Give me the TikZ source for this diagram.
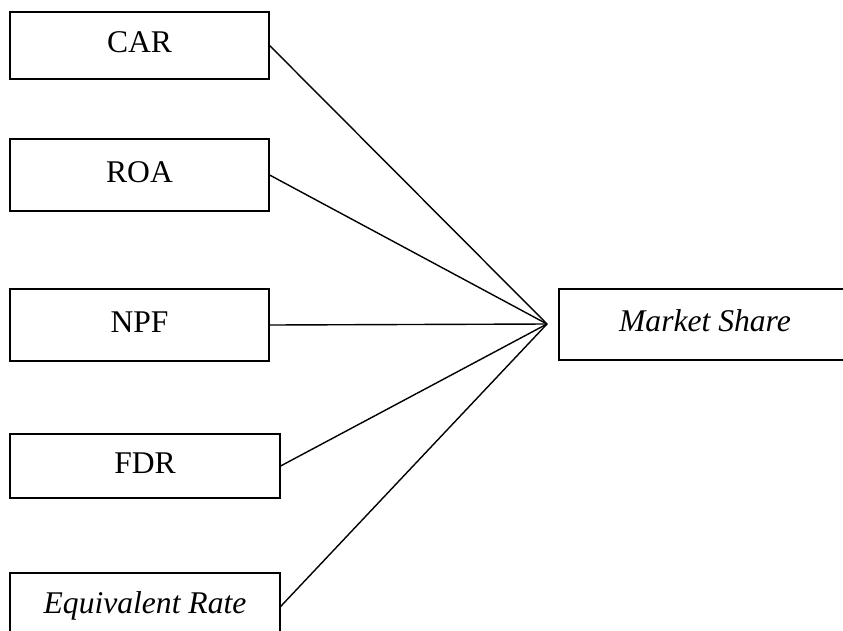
\documentclass[tikz,border=0pt]{standalone}
\usepackage{fontspec}
\setmainfont{Liberation Serif}
\begin{document}
\begin{tikzpicture}[x=1pt,y=-1pt,
  varbox/.style={draw=black, line width=1.2pt, fill=white, inner sep=0pt,
    text height=22pt, text depth=8pt,
    font=\fontsize{31.6}{38}\selectfont},
  link/.style={draw=black, line width=1.4pt}]
\useasboundingbox (0,0) rectangle (843,630);
\begin{scope}
\clip (0,0) rectangle (843,630);
\node[varbox, minimum width=259, minimum height=67] (car) at (139.5,45.5) {CAR};
\node[varbox, minimum width=259, minimum height=72] (roa) at (139.5,175) {ROA};
\node[varbox, minimum width=259, minimum height=72] (npf) at (139.5,325) {NPF};
\node[varbox, minimum width=270, minimum height=64] (fdr) at (145,466) {FDR};
\node[varbox, minimum width=270, minimum height=67] (eqr) at (145,606.5) {\itshape Equivalent Rate};
\node[varbox, minimum width=292, minimum height=71] (ms) at (705,324.5) {\itshape Market Share};
\coordinate (c) at (547,324);
\draw[link] (car.east) -- (c);
\draw[link] (roa.east) -- (c);
\draw[link] (npf.east) -- (c);
\draw[link] (fdr.east) -- (c);
\draw[link] (eqr.east) -- (c);
\end{scope}
\end{tikzpicture}
\end{document}
